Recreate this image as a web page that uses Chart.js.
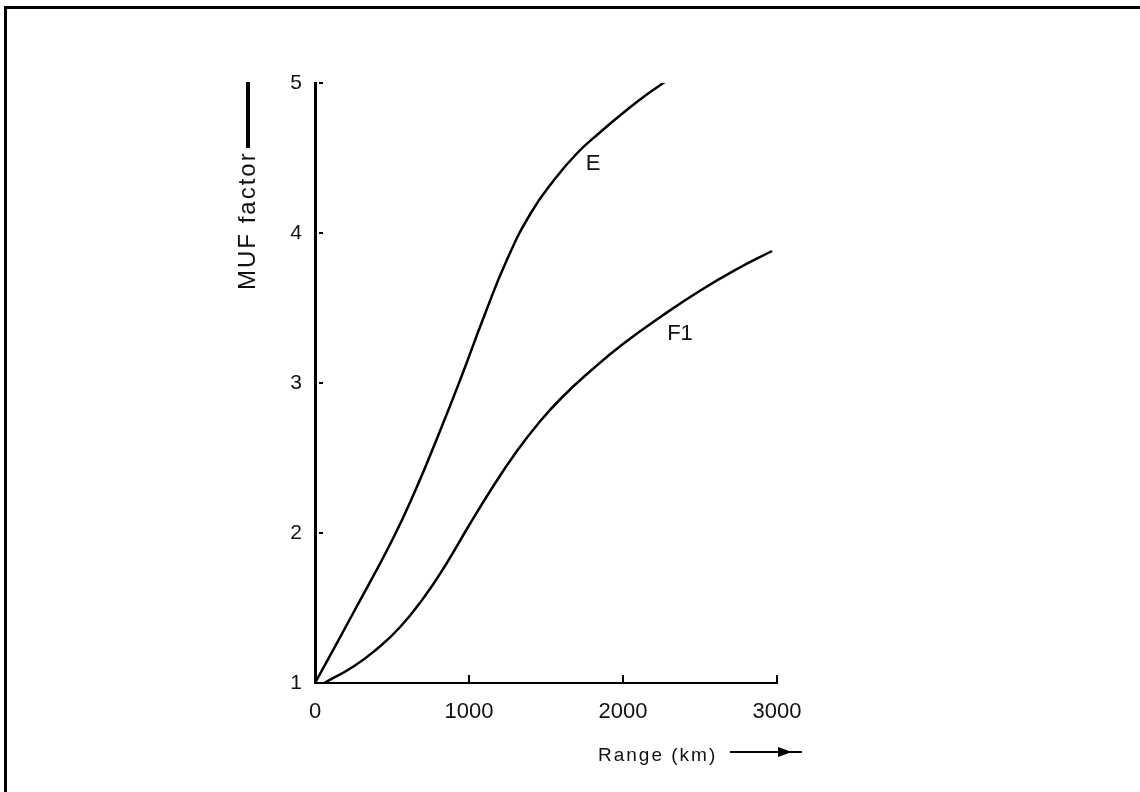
<!DOCTYPE html>
<html>
<head>
    <meta charset="UTF-8">
    <title>MUF factor</title>
    <style>
        body {
            margin: 0;
            background: #fff;
        }

        .frame {
            position: absolute;
            left: 4px;
            top: 6px;
            width: 1140px;
            height: 800px;
            border-top: 3px solid #000;
            border-left: 3px solid #000;
            pointer-events: none;
        }

        .chart-box {
            position: relative;
            width: 1140px;
            height: 792px;
        }
    </style>
    <script src="https://cdn.jsdelivr.net/npm/chart.js"></script>
</head>
<body>
    <div class="chart-box"><canvas id="grafico"></canvas></div>
    <div class="frame"></div>

    <script>
        // Range (km) and MUF factor
        var rangeE = [0, 250, 500, 650, 800, 950, 1100, 1250, 1400, 1550, 1700, 1850, 2000, 2150, 2305];
        var mufE   = [1.0, 1.47, 1.95, 2.28, 2.65, 3.04, 3.45, 3.83, 4.13, 4.35, 4.53, 4.67, 4.80, 4.92, 5.03];

        var rangeF1 = [60, 250, 400, 550, 700, 850, 1000, 1150, 1300, 1450, 1600, 1800, 2000, 2250, 2500, 2750, 2968];
        var mufF1   = [1.0, 1.11, 1.225, 1.37, 1.56, 1.79, 2.05, 2.30, 2.53, 2.73, 2.90, 3.09, 3.26, 3.445, 3.615, 3.765, 3.88];

        var xTicks = [0, 1000, 2000, 3000];
        var yTicks = [1, 2, 3, 4, 5];

        // where the curve names sit (data units)
        var curveNames = ['E', 'F1'];
        var namePos = [[1805, 4.46], [2370, 3.33]];

        function pontos(xs, ys) {
            return xs.map(function (x, i) { return { x: x, y: ys[i] }; });
        }

        var fonte = 'Liberation Sans, Arial, sans-serif';

        var extras = {
            id: 'extras',
            afterDraw: function (chart) {
                var ctx = chart.ctx;
                var sx = chart.scales.x, sy = chart.scales.y;
                ctx.save();
                ctx.strokeStyle = '#000';
                ctx.fillStyle = '#111';

                // little tick marks: up from the x axis, right of the y axis
                ctx.lineWidth = 2;
                xTicks.slice(1).forEach(function (v) {
                    var px = sx.getPixelForValue(v);
                    ctx.beginPath();
                    ctx.moveTo(px, sy.bottom);
                    ctx.lineTo(px, sy.bottom - 8);
                    ctx.stroke();
                });
                yTicks.slice(1).forEach(function (v) {
                    var py = sy.getPixelForValue(v);
                    ctx.beginPath();
                    ctx.moveTo(sx.left + 4, py);
                    ctx.lineTo(sx.left + 8, py);
                    ctx.stroke();
                });

                // curve names
                ctx.font = '22px ' + fonte;
                ctx.textAlign = 'center';
                ctx.textBaseline = 'middle';
                curveNames.forEach(function (n, i) {
                    ctx.fillText(n, sx.getPixelForValue(namePos[i][0]), sy.getPixelForValue(namePos[i][1]));
                });

                // x title with arrow
                ctx.font = '19px ' + fonte;
                ctx.letterSpacing = '2px';
                ctx.textAlign = 'left';
                ctx.textBaseline = 'alphabetic';
                ctx.fillText('Range (km)', 598, 761);
                ctx.lineWidth = 2;
                ctx.beginPath();
                ctx.moveTo(730, 752);
                ctx.lineTo(802, 752);
                ctx.stroke();
                ctx.fillStyle = '#000';
                ctx.beginPath();
                ctx.moveTo(792, 752);
                ctx.lineTo(778, 747);
                ctx.lineTo(778, 757);
                ctx.closePath();
                ctx.fill();

                // y title, rotated, with line above
                ctx.fillStyle = '#111';
                ctx.font = '24px ' + fonte;
                ctx.translate(255, 290);
                ctx.rotate(-Math.PI / 2);
                ctx.fillText('MUF factor', 0, 0);
                ctx.restore();

                ctx.save();
                ctx.strokeStyle = '#000';
                ctx.lineWidth = 4;
                ctx.beginPath();
                ctx.moveTo(248, 82);
                ctx.lineTo(248, 148);
                ctx.stroke();
                ctx.restore();
            }
        };

        var linha = {
            borderColor: '#000',
            borderWidth: 2.5,
            pointRadius: 0,
            fill: false,
            tension: 0.5
        };

        new Chart(document.getElementById('grafico').getContext('2d'), {
            type: 'line',
            data: {
                datasets: [
                    Object.assign({ label: 'E', data: pontos(rangeE, mufE) }, linha),
                    Object.assign({ label: 'F1', data: pontos(rangeF1, mufF1) }, linha)
                ]
            },
            options: {
                responsive: true,
                maintainAspectRatio: false,
                animation: false,
                devicePixelRatio: 1,
                layout: { padding: { left: 0, top: 83, right: 363, bottom: 0 } },
                plugins: { legend: { display: false }, tooltip: { enabled: false } },
                scales: {
                    x: {
                        type: 'linear',
                        min: 0,
                        max: 3000,
                        afterFit: function (s) { s.height = 109; },
                        afterBuildTicks: function (s) { s.ticks = xTicks.map(function (v) { return { value: v }; }); },
                        grid: { display: false },
                        border: { display: true, color: '#000', width: 2 },
                        ticks: {
                            color: '#111',
                            padding: 8,
                            maxRotation: 0,
                            font: { family: fonte, size: 22 },
                            callback: function (v) { return String(v); }
                        }
                    },
                    y: {
                        type: 'linear',
                        min: 1,
                        max: 5,
                        afterFit: function (s) { s.width = 315; },
                        afterBuildTicks: function (s) { s.ticks = yTicks.map(function (v) { return { value: v }; }); },
                        grid: { display: false },
                        border: { display: true, color: '#000', width: 3 },
                        ticks: {
                            color: '#111',
                            padding: 5,
                            font: { family: fonte, size: 21 }
                        }
                    }
                }
            },
            plugins: [extras]
        });
    </script>
</body>
</html>
